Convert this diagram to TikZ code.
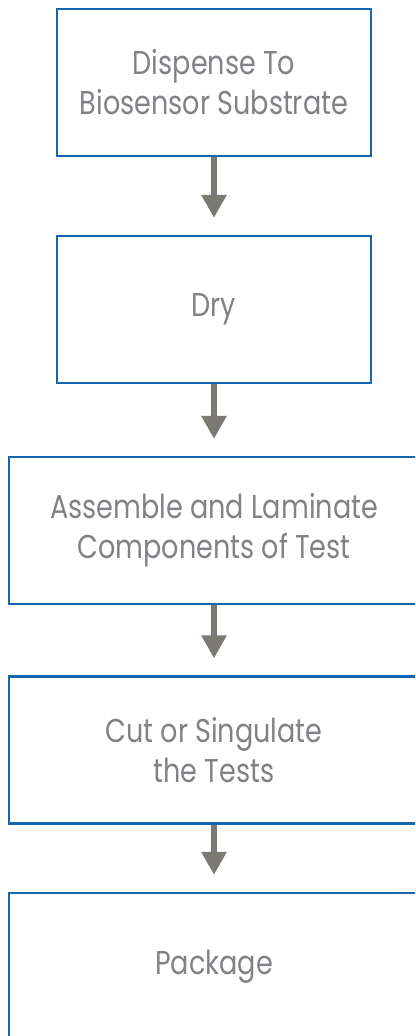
\documentclass[tikz,border=0pt]{standalone}
\usepackage{fontspec}
\setmainfont{Poppins}[FakeStretch=0.82]
\usetikzlibrary{arrows.meta}
\definecolor{boxblue}{HTML}{1565B0}
\definecolor{labelgray}{HTML}{808286}
\definecolor{arrowgray}{HTML}{7A7A72}
\tikzset{
  stepbox/.style={draw=boxblue, line width=2.3pt, fill=white, rectangle,
    minimum height=147pt, align=center, text=labelgray,
    font=\fontsize{33}{40}\selectfont, inner sep=0pt},
  narrowbox/.style={stepbox, minimum width=314pt},
  widebox/.style={stepbox, minimum width=410pt},
  flow/.style={draw=arrowgray, line width=6pt,
    -{Triangle[width=24pt,length=23pt]}, shorten >=17pt}
}
\begin{document}
\begin{tikzpicture}[x=1pt,y=-1pt]
  \useasboundingbox (0,0) rectangle (415,1036);
  \clip (0,0) rectangle (415,1036);
  \node[narrowbox] (dispense) at (214,82.5) {Dispense To\\Biosensor Substrate};
  \node[narrowbox] (dry) at (214,309.5) {Dry};
  \node[widebox] (assemble) at (214,530.5) {Assemble and Laminate\\Components of Test};
  \node[widebox] (cut) at (214,750) {Cut or Singulate\\the Tests};
  \node[widebox] (package) at (214,966.5) {Package};
  \draw[flow] (dispense.south) -- (dry.north);
  \draw[flow] (dry.south) -- (assemble.north);
  \draw[flow] (assemble.south) -- (cut.north);
  \draw[flow] (cut.south) -- (package.north);
\end{tikzpicture}
\end{document}
